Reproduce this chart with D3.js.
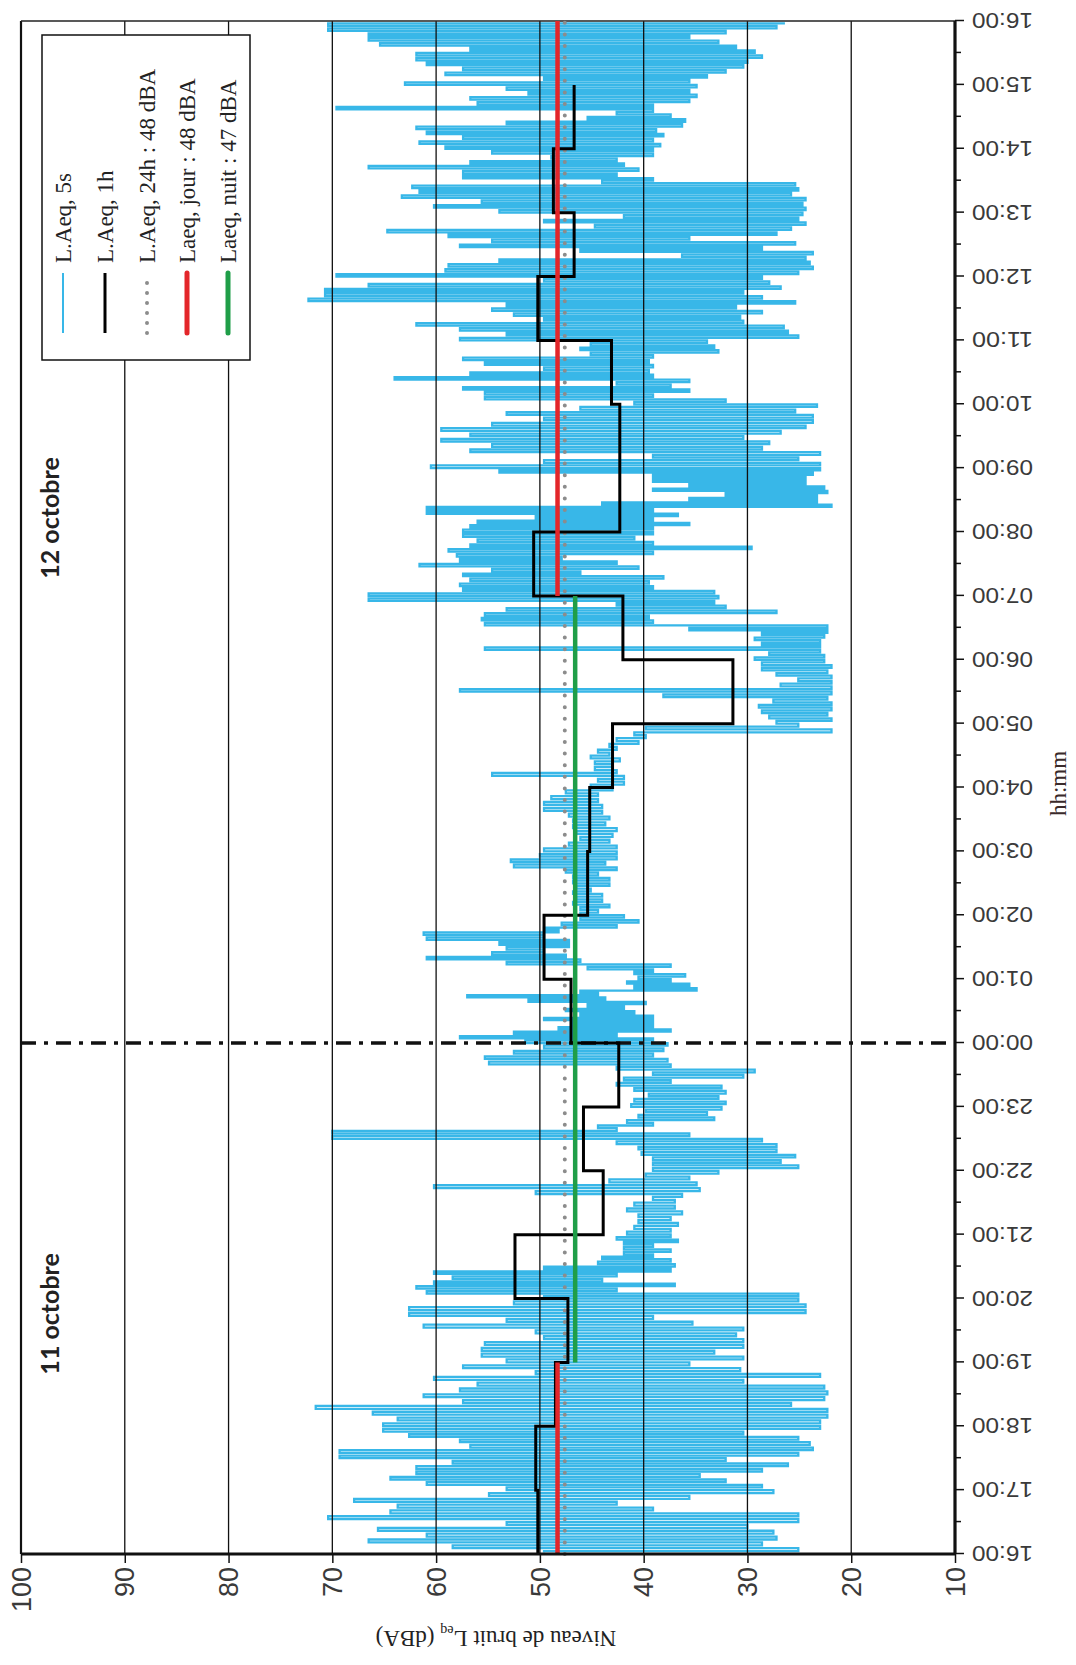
<!DOCTYPE html>
<html>
<head>
<meta charset="utf-8">
<script src="https://cdn.jsdelivr.net/npm/d3@7/dist/d3.min.js"></script>
<style>
  body { margin: 0; background: #fff; }
  svg { display: block; }
</style>
</head>
<body>
<svg id="chart" width="1076" height="1665"></svg>
<script>
// Hour labels of the time axis, 16:00 on 11 October to 16:00 on 12 October
const hourLabels = ["16:00","17:00","18:00","19:00","20:00","21:00","22:00","23:00",
  "00:00","01:00","02:00","03:00","04:00","05:00","06:00","07:00",
  "08:00","09:00","10:00","11:00","12:00","13:00","14:00","15:00","16:00"];

// Level axis ticks (dBA)
const levelTicks = [10, 20, 30, 40, 50, 60, 70, 80, 90, 100];

// Hourly LAeq (dBA), one value per hour starting at 16:00
const laeq1h = [50.2, 50.4, 48.5, 47.3, 52.4, 43.9, 45.8, 42.4, 47.0, 49.6, 45.4, 45.2,
  43.0, 31.4, 42.0, 50.6, 42.3, 42.3, 43.1, 50.2, 46.7, 48.7, 46.7];

// Short-term LAeq readings (dBA), grouped by hour starting at 16:00
const laeq5s = [
  [49.6,25.1,58.4,28.6,66.5,27.2,60.9,27.5,65.6,30.0,53.2,25.1,70.4,25.1,64.4,39.1,63.7,42.6,67.9,35.6,54.9,27.5],
  [53.2,28.6,60.9,32.1,64.4,34.6,61.9,28.6,61.9,26.1,58.4,32.1,69.3,25.1,69.3,23.7,56.7,24.0,57.7,25.1,62.6,30.4,65.1,23.0],
  [65.1,23.0,63.7,22.3,66.1,22.3,71.6,25.8,57.4,22.6,61.2,22.3,57.7,22.6,56.0,30.4,60.2,23.0,50.4,30.7,57.4,35.6],
  [53.2,30.4,55.6,33.2,55.6,30.4,55.3,30.4,49.6,31.1,50.4,30.4,61.2,35.3,53.2,39.1,62.6,24.4,62.6,24.4,52.5,25.1],
  [49.6,25.1,60.9,42.6,61.9,37.0,60.2,44.0,58.4,42.6,60.2,37.4,49.6,37.0,44.4,37.4,44.0,39.1,41.9,37.4,41.9,39.1,41.9,36.7,42.6,37.4],
  [41.6,37.4,40.9,36.7,40.5,37.4,40.5,36.3,41.6,37.0,40.9,37.0,39.1,36.3,50.4,34.6,60.2,34.9,43.3,35.6,39.8,32.8],
  [39.1,25.1,39.1,26.8,39.1,25.4,40.2,27.2,40.5,27.2,42.6,28.6,70.0,35.6,70.0,42.6,44.4,39.1,41.6,33.2,40.5,33.9,39.8,32.5],
  [41.2,32.1,40.9,32.8,39.5,32.1,40.9,32.5,42.6,37.4,41.9,30.4,39.1,29.3,42.6,37.4,54.9,37.7,55.3,39.1,52.5,38.1,49.6,37.7],
  [51.4,39.1,57.7,42.6,52.5,37.4,48.2,39.1,46.8,39.1,49.6,39.1,46.1,40.9,47.5,41.9,45.4,39.8,51.1,43.7,57.0,44.4,46.1,34.9,40.9,35.6,41.6,37.4],
  [40.5,36.0,40.9,39.1,45.4,37.4,53.2,46.1,60.9,47.5,54.6,49.6,53.2,47.2,53.9,47.2,60.9,49.6,61.2,48.2,49.6,42.6,47.9,40.5,46.1,41.9],
  [46.1,44.4,46.1,43.3,46.8,44.0,46.5,44.0,46.8,45.1,46.5,43.3,46.8,43.3,46.8,44.4,47.5,42.6,52.5,43.7,52.8,42.6,50.0,42.6],
  [49.6,42.6,47.2,43.3,46.1,43.0,46.5,42.6,46.8,43.7,46.8,43.3,47.2,44.0,49.6,44.0,49.6,44.4,48.9,44.4,47.5,43.0],
  [45.1,41.9,44.4,41.9,54.6,42.6,44.7,43.0,44.7,42.3,45.1,43.3,44.4,42.6,43.3,40.5,42.6,39.8,40.9,21.9,39.8,25.1],
  [27.2,21.9,27.9,22.3,28.6,21.9,28.9,21.9,27.5,22.3,38.1,21.9,57.7,21.9,26.8,21.9,25.1,21.9,27.2,22.3,28.6,21.9,28.6,22.6],
  [29.3,22.6,27.9,23.0,55.3,23.0,28.6,23.0,29.3,22.6,28.6,22.3,35.6,22.3,55.3,39.1,55.6,39.5,55.3,27.2,53.2,32.1,42.6,33.2,66.5,32.8],
  [66.5,33.2,57.4,39.1,57.7,39.5,56.7,38.1,57.4,46.1,54.6,40.5,61.6,42.6,57.7,47.9,58.0,39.1,58.8,29.6,56.7,39.1,56.0,40.9,57.4,39.1],
  [57.4,39.1,56.7,35.6,56.0,39.1,50.4,36.7,60.9,39.1,60.9,21.9,44.0,23.3,35.6,23.3,32.1,22.3,39.1,22.6,35.6,24.4,39.1,24.4,39.1,23.7,53.9,23.0],
  [60.5,23.0,49.6,25.1,39.1,23.0,56.7,28.6,54.6,27.9,59.5,30.4,56.7,26.8,59.5,24.4,54.6,23.7,49.6,23.7,53.2,25.4,46.1,23.3],
  [40.9,32.1,55.3,39.1,55.3,35.6,57.4,37.4,42.6,35.6,64.0,39.1,56.7,39.5,49.6,39.1,55.3,39.5,57.4,39.1,45.1,32.8,46.1,33.2,45.1,33.9],
  [57.7,25.1,53.2,26.1,57.7,26.5,61.9,30.4,49.6,30.7,52.5,28.6,54.6,31.1,53.2,25.4,72.3,28.6,70.7,30.4,70.7,26.8,66.5,27.9,49.6,28.6],
  [69.6,25.1,59.1,23.7,58.8,24.0,53.9,24.4,36.3,23.7,46.1,28.6,57.7,25.4,54.6,35.6,58.8,27.2,64.7,25.8,44.7,24.4,49.6,25.1,41.9,24.7],
  [53.9,24.4,60.2,24.7,55.6,24.4,63.3,25.8,61.6,25.1,62.3,25.4,44.0,39.1,57.4,42.6,57.4,40.5,66.5,41.9,56.7,42.6,48.9,39.1,54.6,39.1],
  [59.1,38.4,61.6,39.1,57.4,38.1,60.9,38.8,61.9,36.3,53.2,36.0,45.4,37.4,42.6,39.1,69.6,39.1,56.0,35.6,56.7,34.9,51.1,35.6,53.2,34.9],
  [63.0,35.6,49.6,33.9,59.1,32.1,57.4,30.4,60.9,30.0,61.9,28.6,61.9,29.3,56.7,31.1,65.4,32.8,66.5,35.6,66.5,32.1,70.4,27.2,70.4,26.5]
];

// Period averages (dBA) and the hours they cover (hours after 16:00)
const laeq24h = 47.6;
const laeqJour = 48.3;
const laeqNuit = 46.6;
const dayPeriods = [[0, 3], [15, 24]];
const nightPeriods = [[3, 15]];
const midnightHour = 8;

const dateLabels = ["11 octobre", "12 octobre"];
const legendLabels = ["L.Aeq, 5s", "L.Aeq, 1h", "L.Aeq, 24h : 48 dBA", "Laeq, jour : 48 dBA", "Laeq, nuit : 47 dBA"];

// ---- drawing ----
// The chart is laid out with time along x and level along y, then the
// whole group is turned a quarter turn so time runs bottom-to-top.
const W = 1533, H = 934;
const svg = d3.select("#chart");
const g = svg.append("g").attr("transform", "translate(21,1554) rotate(-90)");

const x = d3.scaleLinear().domain([0, 24]).range([0, W]);
const y = d3.scaleLinear().domain([10, 100]).range([H, 0]);

const CYAN = "#38b7e8", RED = "#e3262a", GREEN = "#1f9e48", GREY = "#8c8c8c";

// short-term series: each reading is held until the next one
const pts = [];
laeq5s.forEach((arr, h) => {
  arr.forEach((v, i) => pts.push({ t: h + (i + 0.5) / arr.length, v }));
});
g.append("path")
  .datum(pts)
  .attr("fill", "none")
  .attr("stroke", CYAN)
  .attr("stroke-width", 2.3)
  .attr("d", d3.line().curve(d3.curveStep).x(d => x(d.t)).y(d => y(d.v)));

// gridlines
g.append("g").selectAll("line")
  .data(levelTicks.filter(v => v > 10 && v < 100))
  .join("line")
  .attr("x1", 0).attr("x2", W)
  .attr("y1", d => y(d)).attr("y2", d => y(d))
  .attr("stroke", "#111").attr("stroke-width", 1.3);

// frame
g.append("line").attr("x1", 0).attr("x2", W).attr("y1", y(100)).attr("y2", y(100))
  .attr("stroke", "#111").attr("stroke-width", 2.2);
g.append("line").attr("x1", W).attr("x2", W).attr("y1", 0).attr("y2", H)
  .attr("stroke", "#222").attr("stroke-width", 1.5);

// midnight separator
g.append("line")
  .attr("x1", x(midnightHour)).attr("x2", x(midnightHour))
  .attr("y1", 0).attr("y2", H)
  .attr("stroke", "#111").attr("stroke-width", 3.5)
  .attr("stroke-dasharray", "15 8 4 8");

// 24h average, dotted
g.append("line")
  .attr("x1", x(0)).attr("x2", x(24))
  .attr("y1", y(laeq24h)).attr("y2", y(laeq24h))
  .attr("stroke", GREY).attr("stroke-width", 4)
  .attr("stroke-linecap", "round")
  .attr("stroke-dasharray", "0 11.6");

// hourly step line
const stepPts = laeq1h.map((v, i) => ({ t: i, v }));
stepPts.push({ t: laeq1h.length, v: laeq1h[laeq1h.length - 1] });
g.append("path")
  .datum(stepPts)
  .attr("fill", "none")
  .attr("stroke", "#000")
  .attr("stroke-width", 3)
  .attr("d", d3.line().curve(d3.curveStepAfter).x(d => x(d.t)).y(d => y(d.v)));

// day / night averages
g.append("g").selectAll("line").data(dayPeriods).join("line")
  .attr("x1", d => x(d[0])).attr("x2", d => x(d[1]))
  .attr("y1", y(laeqJour)).attr("y2", y(laeqJour))
  .attr("stroke", RED).attr("stroke-width", 4.5);
g.append("g").selectAll("line").data(nightPeriods).join("line")
  .attr("x1", d => x(d[0])).attr("x2", d => x(d[1]))
  .attr("y1", y(laeqNuit)).attr("y2", y(laeqNuit))
  .attr("stroke", GREEN).attr("stroke-width", 4.5);

// time axis
const hours = d3.range(0, 25);
const tAxis = g.append("g").attr("transform", `translate(0,${H})`);
tAxis.call(d3.axisBottom(x).tickValues(hours).tickSize(9).tickFormat(""));
tAxis.call(sel => sel.select(".domain").remove());
const tMinor = g.append("g").attr("transform", `translate(0,${H})`);
tMinor.call(d3.axisBottom(x).tickValues(d3.range(0.5, 24, 1)).tickSize(6).tickFormat(""));
tMinor.call(sel => sel.select(".domain").remove());
g.selectAll(".tick line").attr("stroke", "#111").attr("stroke-width", 1.5);
g.append("line").attr("x1", 0).attr("x2", W).attr("y1", H).attr("y2", H)
  .attr("stroke", "#111").attr("stroke-width", 3.2);

g.append("g").selectAll("text").data(hours).join("text")
  .attr("transform", d => `translate(${x(d)},${H + 17}) rotate(-90)`)
  .attr("text-anchor", "end")
  .attr("dy", "0.36em")
  .attr("font-family", "Liberation Sans, Arial, sans-serif")
  .attr("font-size", 22)
  .attr("fill", "#3a3a3a")
  .attr("textLength", 61)
  .attr("lengthAdjust", "spacingAndGlyphs")
  .text(d => hourLabels[d]);

// level axis
const lAxis = g.append("g");
lAxis.call(d3.axisLeft(y).tickValues(levelTicks).tickSize(9).tickFormat(""));
lAxis.select(".domain").remove();
lAxis.selectAll(".tick line").attr("stroke", "#111").attr("stroke-width", 1.5);
g.append("line").attr("x1", 0).attr("x2", 0).attr("y1", 0).attr("y2", H)
  .attr("stroke", "#111").attr("stroke-width", 3.2);

g.append("g").selectAll("text").data(levelTicks).join("text")
  .attr("x", -13).attr("y", d => y(d))
  .attr("dy", "0.36em")
  .attr("text-anchor", "end")
  .attr("font-family", "Liberation Sans, Arial, sans-serif")
  .attr("font-size", 27)
  .attr("fill", "#3a3a3a")
  .text(d => d);

// axis titles
const yTitle = g.append("text")
  .attr("transform", `translate(-77,${H / 2 + 8}) rotate(-90)`)
  .attr("text-anchor", "middle")
  .attr("font-family", "Liberation Serif, Times New Roman, serif")
  .attr("font-size", 23)
  .attr("fill", "#222");
yTitle.append("tspan").text("Niveau de bruit L");
yTitle.append("tspan").attr("font-size", 14).attr("dy", 5).text("eq");
yTitle.append("tspan").attr("dy", -5).text(" (dBA)");

g.append("text")
  .attr("x", W / 2 + 4).attr("y", H + 111)
  .attr("text-anchor", "middle")
  .attr("font-family", "Liberation Serif, Times New Roman, serif")
  .attr("font-size", 23)
  .attr("fill", "#3a2a2a")
  .text("hh:mm");

// date labels
const datePos = [3.76, 16.22];
g.append("g").selectAll("text").data(dateLabels).join("text")
  .attr("x", (d, i) => x(datePos[i])).attr("y", 38)
  .attr("text-anchor", "middle")
  .attr("font-family", "Lato, Open Sans, sans-serif")
  .attr("font-weight", "bold")
  .attr("font-size", 25)
  .attr("fill", "#222")
  .text(d => d);

// legend
const lg = g.append("g").attr("transform", "translate(1194,21)");
lg.append("rect").attr("width", 325).attr("height", 208)
  .attr("fill", "#fff").attr("stroke", "#111").attr("stroke-width", 1.5);
const rowY = [21, 63, 105, 145, 186];
const legendStyle = [
  { c: CYAN, w: 2, dash: null, cap: "butt" },
  { c: "#000", w: 3, dash: null, cap: "butt" },
  { c: GREY, w: 4, dash: "0 10", cap: "round" },
  { c: RED, w: 5, dash: null, cap: "round" },
  { c: GREEN, w: 5, dash: null, cap: "round" }
];
const rows = lg.selectAll("g.row").data(legendLabels).join("g")
  .attr("class", "row")
  .attr("transform", (d, i) => `translate(0,${rowY[i]})`);
rows.append("line")
  .attr("x1", 27).attr("x2", 87)
  .attr("stroke", (d, i) => legendStyle[i].c)
  .attr("stroke-width", (d, i) => legendStyle[i].w)
  .attr("stroke-linecap", (d, i) => legendStyle[i].cap)
  .attr("stroke-dasharray", (d, i) => legendStyle[i].dash);
rows.append("text")
  .attr("x", 97).attr("dy", "0.35em")
  .attr("font-family", "Liberation Serif, Times New Roman, serif")
  .attr("font-size", 23)
  .attr("fill", "#222")
  .text(d => d);
</script>
</body>
</html>
